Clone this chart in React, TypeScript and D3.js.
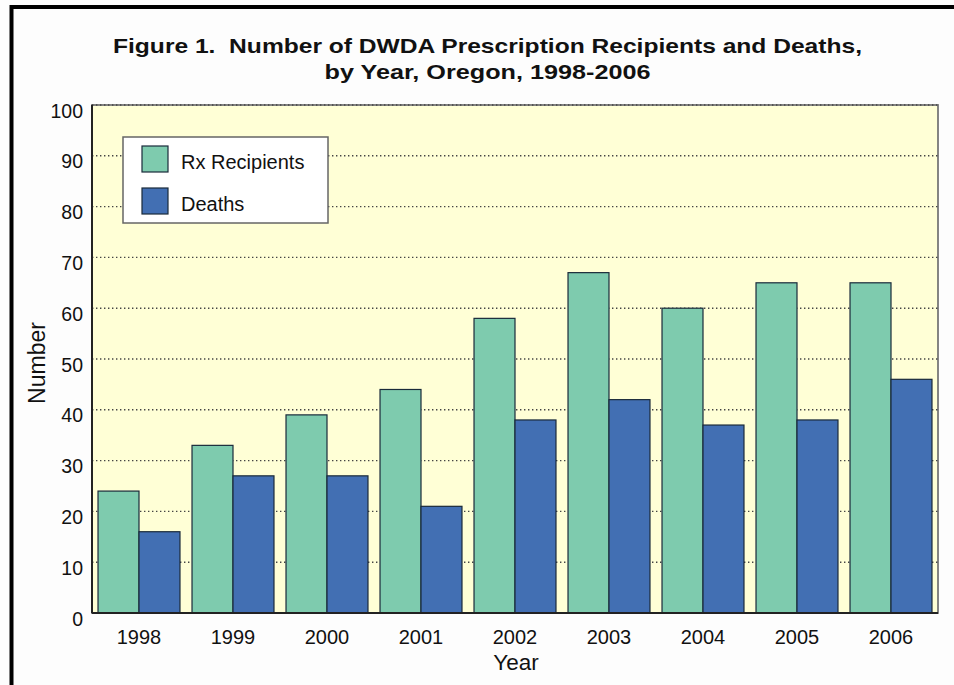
import React, { useEffect, useRef } from 'react';
import * as d3 from 'd3';

const years: string[] = ['1998', '1999', '2000', '2001', '2002', '2003', '2004', '2005', '2006'];
const rxRecipients: number[] = [24, 33, 39, 44, 58, 67, 60, 65, 65];
const deaths: number[] = [16, 27, 27, 21, 38, 42, 37, 38, 46];
const yTicks: number[] = [0, 10, 20, 30, 40, 50, 60, 70, 80, 90, 100];
const seriesNames: string[] = ['Rx Recipients', 'Deaths'];
const titleLines: string[] = [
  'Figure 1.  Number of DWDA Prescription Recipients and Deaths,',
  'by Year, Oregon, 1998-2006',
];
const colors: string[] = ['#7ecbae', '#426fb3'];

const W = 954;
const H = 685;

const App: React.FC = () => {
  const svgRef = useRef<SVGSVGElement>(null);

  useEffect(() => {
    if (!svgRef.current) return;
    const svg = d3.select(svgRef.current);
    svg.selectAll('*').remove();

    const font = 'Liberation Sans, Arial, Helvetica, sans-serif';
    const margin = { top: 105, right: 16, bottom: 72, left: 92 };
    const chartW = W - margin.left - margin.right;
    const chartH = H - margin.top - margin.bottom;

    svg.append('rect').attr('width', W).attr('height', H).attr('fill', '#fdfdfd');

    // ### Outer frame (only top and left show)
    svg.append('path')
      .attr('d', `M11.5,${H + 5} L11.5,7 L${W + 5},7`)
      .attr('fill', 'none')
      .attr('stroke', '#000')
      .attr('stroke-width', 4);

    // ### Title (stretched to the width of the original)
    const titleWidths = [749, 326];
    titleLines.forEach((line, i) => {
      svg.append('text')
        .attr('x', 487.5)
        .attr('y', 53 + i * 26)
        .attr('text-anchor', 'middle')
        .attr('font-family', font)
        .attr('font-weight', 'bold')
        .attr('font-size', '21px')
        .attr('fill', '#111')
        .attr('textLength', titleWidths[i])
        .attr('lengthAdjust', 'spacingAndGlyphs')
        .style('white-space', 'pre')
        .text(line);
    });

    const g = svg.append('g').attr('transform', `translate(${margin.left},${margin.top})`);

    // ### Scales
    const x0 = d3.scaleBand<string>().domain(years).range([0, chartW]).paddingInner(0.128).paddingOuter(0.064);
    const x1 = d3.scaleBand<string>().domain(seriesNames).range([0, x0.bandwidth()]);
    const y = d3.scaleLinear().domain([0, 100]).range([chartH, 0]);

    // ### Plot background
    g.append('rect')
      .attr('width', chartW)
      .attr('height', chartH)
      .attr('fill', '#ffffd6')
      .attr('stroke', '#777')
      .attr('stroke-width', 1.8);

    // ### Dotted grid
    g.selectAll('.grid')
      .data(yTicks.filter(t => t > 0))
      .enter()
      .append('line')
      .attr('x1', 0)
      .attr('x2', chartW)
      .attr('y1', d => y(d))
      .attr('y2', d => y(d))
      .attr('stroke', '#444')
      .attr('stroke-width', 1.4)
      .attr('stroke-dasharray', '1.4,2.6');

    // ### Bars
    const groups = g.selectAll('.year')
      .data(years)
      .enter()
      .append('g')
      .attr('transform', d => `translate(${x0(d)},0)`);

    groups.selectAll('rect')
      .data((d, i) => [
        { key: seriesNames[0], value: rxRecipients[i] },
        { key: seriesNames[1], value: deaths[i] },
      ])
      .enter()
      .append('rect')
      .attr('x', d => x1(d.key) as number)
      .attr('y', d => y(d.value))
      .attr('width', x1.bandwidth())
      .attr('height', d => chartH - y(d.value))
      .attr('fill', (d, i) => colors[i])
      .attr('stroke', '#1a2a3a')
      .attr('stroke-width', 1.2);

    // ### Axes lines
    g.append('line').attr('x1', 0).attr('x2', 0).attr('y1', 0).attr('y2', chartH)
      .attr('stroke', '#222').attr('stroke-width', 2);
    g.append('line').attr('x1', 0).attr('x2', chartW).attr('y1', chartH).attr('y2', chartH)
      .attr('stroke', '#222').attr('stroke-width', 2);

    // ### Y tick labels
    g.selectAll('.ylab')
      .data(yTicks)
      .enter()
      .append('text')
      .attr('x', -9)
      .attr('y', d => y(d) + 12.5)
      .attr('text-anchor', 'end')
      .attr('font-family', font)
      .attr('font-size', '19.5px')
      .attr('fill', '#111')
      .text(d => d);

    // ### X tick labels
    g.selectAll('.xlab')
      .data(years)
      .enter()
      .append('text')
      .attr('x', d => (x0(d) as number) + x0.bandwidth() / 2)
      .attr('y', chartH + 31)
      .attr('text-anchor', 'middle')
      .attr('font-family', font)
      .attr('font-size', '20px')
      .attr('fill', '#111')
      .text(d => d);

    // ### Axis titles
    g.append('text')
      .attr('x', chartW / 2 + 1)
      .attr('y', chartH + 57)
      .attr('text-anchor', 'middle')
      .attr('font-family', font)
      .attr('font-size', '22.5px')
      .attr('fill', '#111')
      .text('Year');

    g.append('text')
      .attr('transform', `translate(${-47},${chartH / 2 + 4}) rotate(-90)`)
      .attr('text-anchor', 'middle')
      .attr('font-family', font)
      .attr('font-size', '23px')
      .attr('fill', '#111')
      .text('Number');

    // ### Legend
    const legend = svg.append('g').attr('transform', 'translate(123,137)');
    legend.append('rect')
      .attr('width', 205)
      .attr('height', 86)
      .attr('fill', '#fff')
      .attr('stroke', '#666')
      .attr('stroke-width', 1.5);
    seriesNames.forEach((name, i) => {
      legend.append('rect')
        .attr('x', 19)
        .attr('y', 9 + i * 42)
        .attr('width', 26)
        .attr('height', 26)
        .attr('fill', colors[i])
        .attr('stroke', '#1a2a3a')
        .attr('stroke-width', 1.2);
      legend.append('text')
        .attr('x', 58)
        .attr('y', 32 + i * 42)
        .attr('font-family', font)
        .attr('font-size', '20px')
        .attr('fill', '#111')
        .text(name);
    });
  }, []);

  return (
    <svg
      ref={svgRef}
      width={W}
      height={H}
      style={{ position: 'absolute', left: 0, top: 0, display: 'block' }}
    />
  );
};

export default App;
